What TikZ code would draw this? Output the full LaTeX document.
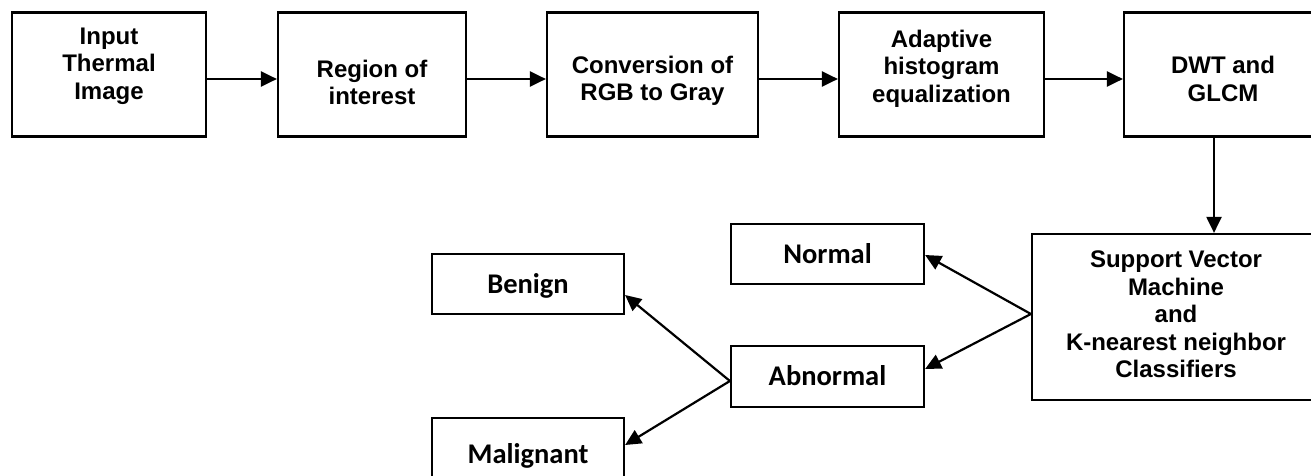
\documentclass[tikz,border=0pt]{standalone}
\usepackage{fontspec}
\setmainfont{Liberation Sans}
\newfontfamily\calibrifont{Carlito}
\usetikzlibrary{arrows.meta}
\begin{document}
\begin{tikzpicture}[x=1pt,y=-1pt,
  box/.style={draw,line width=2.2pt,inner sep=0pt},
  toptxt/.style={align=center,inner sep=0pt,font=\fontsize{24}{27.5}\selectfont\bfseries},
  lowbox/.style={box,minimum width=193pt,font=\calibrifont\fontsize{28.5}{34}\selectfont\bfseries,text height=18.4pt,text depth=0pt},
  arr/.style={line width=2.2pt,-{Triangle[length=16pt,width=15pt]}}]
\clip (0,0) rectangle (1311,476);
% top row boxes
\node[box,minimum width=194pt,minimum height=124pt] (b1) at (109,74.5) {};
\node[box,minimum width=188pt,minimum height=124pt] (b2) at (372,74.5) {};
\node[box,minimum width=211pt,minimum height=124pt] (b3) at (652.5,74.5) {};
\node[box,minimum width=205pt,minimum height=124pt] (b4) at (941.5,74.5) {};
\node[box,minimum width=198pt,minimum height=124pt] (b5) at (1223,74.5) {};
\node[toptxt] (t1) at (109,66) {Input\\Thermal\\Image};
\node[toptxt] (t2) at (372,82.5) {Region of\\interest};
\node[toptxt] (t3) at (652.5,81) {Conversion of\\RGB to Gray};
\node[toptxt] (t4) at (941.5,68.5) {Adaptive\\histogram\\equalization};
\node[toptxt] (t5) at (1223,79) {DWT and\\GLCM};
% classifier box
\node[box,minimum width=288pt,minimum height=166pt] (svm) at (1176,317) {};
\node[toptxt] (tsvm) at (1176,314.5) {Support Vector\\Machine\\and\\K-nearest neighbor\\Classifiers};
% lower boxes
\node[lowbox,minimum height=60pt] (normal) at (827.5,254) {Normal};
\node[lowbox,minimum height=61pt] (abnormal) at (827.5,376.5) {Abnormal};
\node[lowbox,minimum width=192pt,minimum height=60pt] (benign) at (528,284) {Benign};
\node[lowbox,minimum width=192pt,minimum height=72pt] (malignant) at (528,454) {Malignant};
% arrows
\draw[arr] ([yshift=-4.5pt]b1.east) -- ([yshift=-4.5pt]b2.west);
\draw[arr] ([yshift=-4.5pt]b2.east) -- ([yshift=-4.5pt]b3.west);
\draw[arr] ([yshift=-4.5pt]b3.east) -- ([yshift=-4.5pt]b4.west);
\draw[arr] ([yshift=-4.5pt]b4.east) -- ([yshift=-4.5pt]b5.west);
\draw[arr] ([xshift=-9pt]b5.south) -- ([xshift=38pt]svm.north);
\draw[arr] ([yshift=3pt]svm.west) -- ([yshift=-1pt]normal.east);
\draw[arr] ([yshift=3pt]svm.west) -- ([yshift=7.5pt]abnormal.east);
\draw[arr] ([yshift=-4.5pt]abnormal.west) -- ([yshift=-11pt]benign.east);
\draw[arr] ([yshift=-4.5pt]abnormal.west) -- ([yshift=9pt]malignant.east);
\end{tikzpicture}
\end{document}
